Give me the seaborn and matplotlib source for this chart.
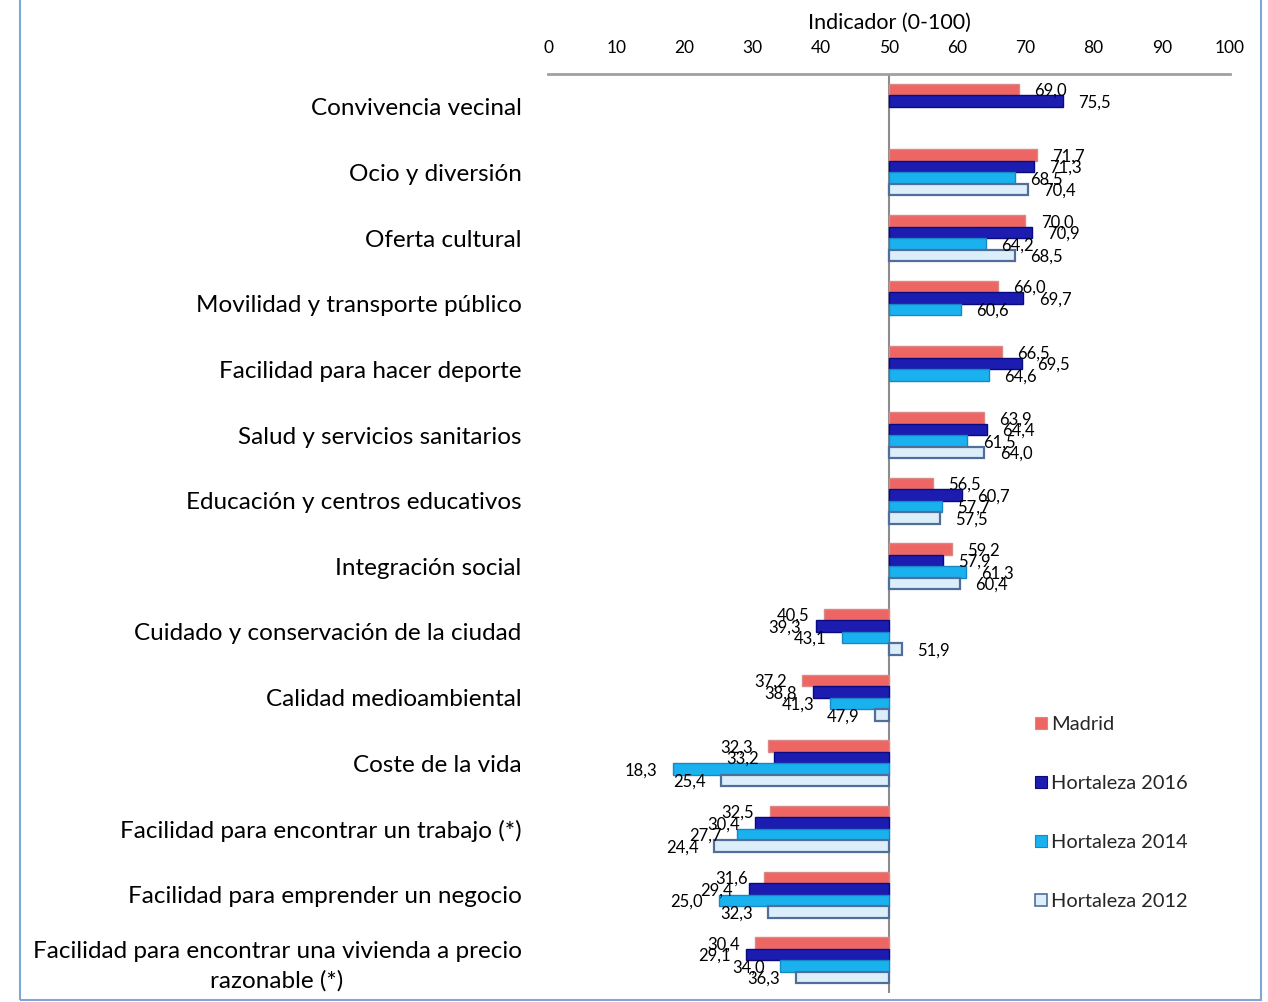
import numpy as np
import pandas as pd
import seaborn as sns
import matplotlib
matplotlib.use("Agg")
import matplotlib.pyplot as plt
from matplotlib.patches import Patch, Rectangle
from matplotlib.ticker import FixedLocator, FuncFormatter

categories = [
    "Convivencia vecinal",
    "Ocio y diversión",
    "Oferta cultural",
    "Movilidad y transporte público",
    "Facilidad para hacer deporte",
    "Salud y servicios sanitarios",
    "Educación y centros educativos",
    "Integración social",
    "Cuidado y conservación de la ciudad",
    "Calidad medioambiental",
    "Coste de la vida",
    "Facilidad para encontrar un trabajo (*)",
    "Facilidad para emprender un negocio",
    "Facilidad para encontrar una vivienda a precio\nrazonable (*)",
]
series_names = ["Madrid", "Hortaleza 2016", "Hortaleza 2014", "Hortaleza 2012"]
madrid = [69.0, 71.7, 70.0, 66.0, 66.5, 63.9, 56.5, 59.2, 40.5, 37.2, 32.3, 32.5, 31.6, 30.4]
hort2016 = [75.5, 71.3, 70.9, 69.7, 69.5, 64.4, 60.7, 57.9, 39.3, 38.8, 33.2, 30.4, 29.4, 29.1]
hort2014 = [np.nan, 68.5, 64.2, 60.6, 64.6, 61.5, 57.7, 61.3, 43.1, 41.3, 18.3, 27.7, 25.0, 34.0]
hort2012 = [np.nan, 70.4, 68.5, np.nan, np.nan, 64.0, 57.5, 60.4, 51.9, 47.9, 25.4, 24.4, 32.3, 36.3]
tick_values = [0, 10, 20, 30, 40, 50, 60, 70, 80, 90, 100]
base = 50

face_colors = ["#EE6663", "#1C1CB0", "#1AB2EE", "#DCEEFA"]
edge_colors = ["#D98886", "#0A0A80", "#1787C8", "#4F6F9A"]

rows = []
for name, vals in zip(series_names, [madrid, hort2016, hort2014, hort2012]):
    for c, v in zip(categories, vals):
        rows.append({"cat": c, "serie": name, "valor": v, "dev": v - base})
df = pd.DataFrame(rows)

sns.set_theme(style="white")
plt.rcParams["font.family"] = ["Lato", "DejaVu Sans"]

fig = plt.figure(figsize=(12.68, 10.02), dpi=100)
ax = fig.add_axes([548 / 1268, 1 - 993 / 1002, (1230 - 548) / 1268, (993 - 74) / 1002])

sns.barplot(data=df, y="cat", x="dev", hue="serie", order=categories,
            hue_order=series_names, palette=face_colors, saturation=1, orient="h",
            width=0.7, gap=0, ax=ax, legend=False, errorbar=None)

for i, cont in enumerate(ax.containers):
    for p in cont.patches:
        if p is None:
            continue
        w = p.get_width()
        if not np.isfinite(w):
            continue
        p.set_edgecolor(edge_colors[i])
        p.set_linewidth(1.6 if i == 3 else 1.0)
        yc = p.get_y() + p.get_height() / 2
        val = w + base
        txt = f"{val:.1f}".replace(".", ",")
        if w >= 0:
            ax.annotate(txt, (w, yc), xytext=(11, -1), textcoords="offset points",
                        ha="left", va="center", fontsize=12, color="#000000")
        else:
            ax.annotate(txt, (w, yc), xytext=(-11, -1), textcoords="offset points",
                        ha="right", va="center", fontsize=12, color="#000000")

ax.set_xlim(-50, 50)
ax.xaxis.tick_top()
ax.xaxis.set_label_position("top")
ax.xaxis.set_major_locator(FixedLocator([t - base for t in tick_values]))
ax.xaxis.set_major_formatter(FuncFormatter(lambda v, p: f"{v + base:.0f}"))
ax.tick_params(axis="x", length=0, pad=13, labelsize=12.5, colors="#000000")
ax.set_xlabel("Indicador (0-100)", fontsize=15.5, labelpad=8, color="#000000")
ax.set_ylabel("")
ax.tick_params(axis="y", length=0, pad=19, labelsize=17.5, colors="#000000")
for lab in ax.get_yticklabels():
    lab.set_multialignment("center")
    lab.set_linespacing(1.45)

for s in ["left", "right", "bottom"]:
    ax.spines[s].set_visible(False)
ax.spines["top"].set_color("#A0A0A0")
ax.spines["top"].set_linewidth(2)
ax.axvline(0, color="#8C8C8C", lw=1.5, zorder=0)
ax.grid(False)

handles = [Patch(facecolor=fc, edgecolor=ec, linewidth=1.2 if i == 3 else 0.8)
           for i, (fc, ec) in enumerate(zip(face_colors, edge_colors))]
ax.legend(handles, series_names, loc="upper left", bbox_to_anchor=(0.703, 0.31),
          frameon=False, fontsize=14.4, labelspacing=2.1, handlelength=0.6,
          handleheight=0.6, handletextpad=0.2, borderaxespad=0)

fig.patches.append(Rectangle((20 / 1268, 1 - 1000 / 1002), (1261 - 20) / 1268, 1.1,
                             transform=fig.transFigure, fill=False,
                             edgecolor="#7DA7D9", linewidth=1.5))

fig.savefig("out.png", dpi=100)
